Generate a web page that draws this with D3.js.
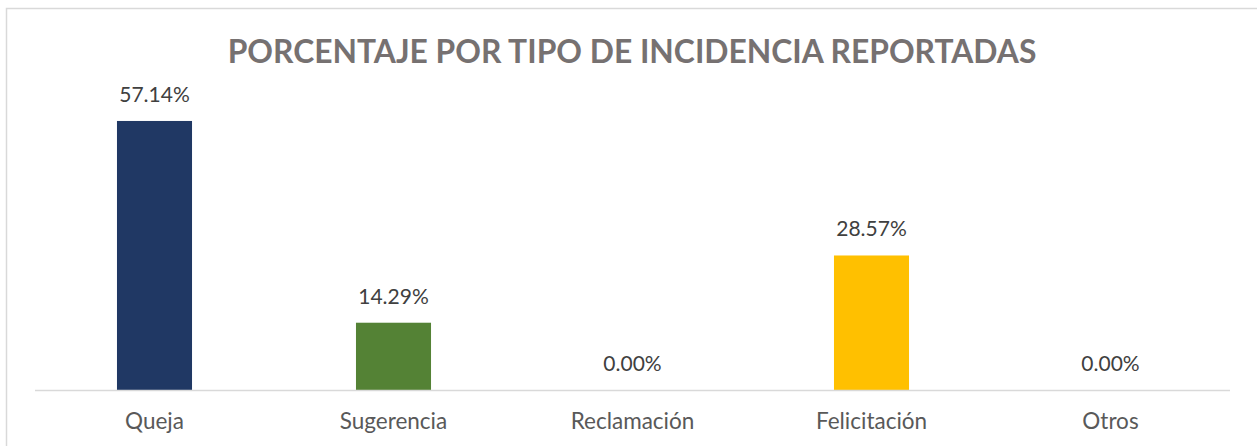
<!DOCTYPE html>
<html lang="es">
<head>
    <meta charset="UTF-8">
    <title>Porcentaje por tipo de incidencia</title>
    <style>
        body { margin: 0; background: #fff; }
        #chart { display: block; }
        text { font-family: Lato, "Open Sans", sans-serif; }
    </style>
</head>
<body>
<svg id="chart"></svg>

<script src="https://cdn.jsdelivr.net/npm/d3@7/dist/d3.min.js"></script>
<script>
    var categories = ["Queja", "Sugerencia", "Reclamación", "Felicitación", "Otros"];
    var values = [57.14, 14.29, 0.00, 28.57, 0.00];
    var colors = ["#203864", "#548235", "#c00000", "#ffc000", "#7f7f7f"];
    var title = "PORCENTAJE POR TIPO DE INCIDENCIA REPORTADAS";

    (function () {
        var width = 1257;
        var height = 446;
        var svg = d3.select("#chart")
            .attr("width", width)
            .attr("height", height);

        // chart frame
        svg.append("rect")
            .attr("x", 6.5)
            .attr("y", 8.5)
            .attr("width", 1260)
            .attr("height", 450)
            .attr("fill", "#fff")
            .attr("stroke", "#d9d9d9")
            .attr("stroke-width", 1.5);

        var plot = { left: 35, right: 1230, top: 107.5, bottom: 390 };

        var x = d3.scaleBand()
            .domain(categories)
            .range([plot.left, plot.right])
            .paddingInner(0.686)
            .paddingOuter(0.343);

        var y = d3.scaleLinear()
            .domain([0, 60])
            .range([plot.bottom, plot.top]);

        svg.append("text")
            .attr("x", 632)
            .attr("y", 63)
            .attr("text-anchor", "middle")
            .attr("font-size", 31.8)
            .attr("font-weight", "bold")
            .attr("fill", "#767171")
            .text(title);

        svg.selectAll("rect.bar")
            .data(values)
            .enter()
            .append("rect")
            .attr("class", "bar")
            .attr("x", function (d, i) { return x(categories[i]); })
            .attr("y", function (d) { return y(d); })
            .attr("width", x.bandwidth())
            .attr("height", function (d) { return plot.bottom - y(d); })
            .attr("fill", function (d, i) { return colors[i]; });

        // axis line
        svg.append("line")
            .attr("x1", plot.left)
            .attr("x2", plot.right)
            .attr("y1", plot.bottom + 0.5)
            .attr("y2", plot.bottom + 0.5)
            .attr("stroke", "#d9d9d9")
            .attr("stroke-width", 1.5);

        svg.selectAll("text.val")
            .data(values)
            .enter()
            .append("text")
            .attr("class", "val")
            .attr("x", function (d, i) { return x(categories[i]) + x.bandwidth() / 2; })
            .attr("y", function (d) { return y(d) - 19; })
            .attr("text-anchor", "middle")
            .attr("font-size", 21)
            .attr("fill", "#404040")
            .text(function (d) { return d.toFixed(2) + "%"; });

        svg.selectAll("text.cat")
            .data(categories)
            .enter()
            .append("text")
            .attr("class", "cat")
            .attr("x", function (d) { return x(d) + x.bandwidth() / 2; })
            .attr("y", 429)
            .attr("text-anchor", "middle")
            .attr("font-size", 22.5)
            .attr("fill", "#595959")
            .text(function (d) { return d; });
    })();
</script>
</body>
</html>
